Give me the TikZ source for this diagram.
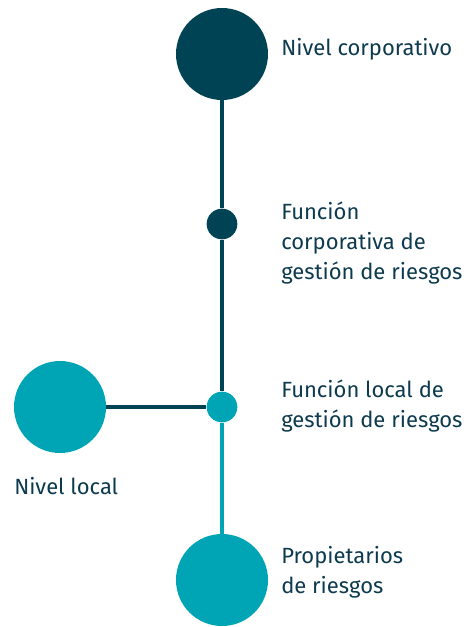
\documentclass[tikz,border=0pt]{standalone}
\usepackage{fontspec}
\setmainfont{Fira Sans}
\definecolor{dark}{HTML}{004355}
\definecolor{teal}{HTML}{00A5B5}
\definecolor{txt}{HTML}{0D3A4E}
\begin{document}
\begin{tikzpicture}[x=0.75pt,y=-0.75pt,
  big/.style={circle,inner sep=0pt,minimum size=69pt},
  small/.style={circle,inner sep=0pt,minimum size=23pt},
  lbl/.style={anchor=base west,text=txt,font=\fontsize{16.5}{22.5}\selectfont,align=left,inner sep=0pt},
  ln/.style={line width=2.4pt}]
\useasboundingbox (0,0) rectangle (467,627);
\node[big,fill=dark] (top) at (222,54) {};
\node[small,fill=dark] (mid) at (222,224) {};
\node[small,fill=teal] (loc) at (222,407) {};
\node[big,fill=teal] (left) at (60,407) {};
\node[big,fill=teal] (bot) at (222,580) {};
\draw[ln,dark] (top) -- (mid);
\draw[ln,dark] (mid) -- (loc);
\draw[ln,dark] (left) -- (loc);
\draw[ln,teal] (loc) -- (bot);
\node[lbl] (t1) at (281,56) {Nivel corporativo};
\node[lbl] (t2) at (281,279) {Función\\corporativa de\\gestión de riesgos};
\node[lbl] (t3) at (281,427) {Función local de\\gestión de riesgos};
\node[lbl] (t4) at (14,494) {Nivel local};
\node[lbl] (t5) at (281,593) {Propietarios\\de riesgos};
\end{tikzpicture}
\end{document}
